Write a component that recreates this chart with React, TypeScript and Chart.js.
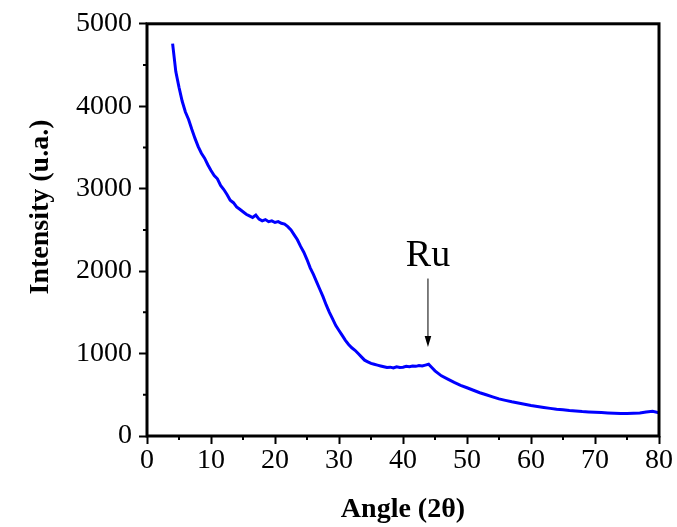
import React, { useEffect, useRef } from "react";
import { Chart, registerables } from "chart.js";

Chart.register(...registerables);

const angles: number[] = [
  4.0, 4.5, 5.0, 5.5, 6.0, 6.5, 7.0, 7.5, 8.0, 8.5, 9.0, 9.5, 10.0, 10.5, 11.0, 11.5,
  12.0, 12.5, 13.0, 13.5, 14.0, 14.5, 15.0, 15.5, 16.0, 16.5, 17.0, 17.5, 18.0, 18.5,
  19.0, 19.5, 20.0, 20.5, 21.0, 21.5, 22.0, 22.5, 23.0, 23.5, 24.0, 24.5, 25.0, 25.5,
  26.0, 26.5, 27.0, 27.5, 28.0, 28.5, 29.0, 29.5, 30.0, 30.5, 31.0, 31.5, 32.0, 32.5,
  33.0, 33.5, 34.0, 34.5, 35.0, 35.5, 36.0, 36.5, 37.0, 37.5, 38.0, 38.5, 39.0, 39.5,
  40.0, 40.5, 41.0, 41.5, 42.0, 42.5, 43.0, 43.5, 44.0, 44.5, 45.0, 45.5, 46.0,
  47, 48, 49, 50, 51, 52, 53, 54, 55, 56, 57, 58, 59, 60, 61, 62, 63, 64, 65, 66, 67,
  68, 69, 70, 71, 72, 73, 74, 75, 76, 77, 78, 79, 80,
];

const intensity: number[] = [
  4760, 4420, 4230, 4060, 3930, 3840, 3720, 3610, 3510, 3430, 3370, 3290, 3220, 3160, 3120, 3040,
  2990, 2930, 2860, 2830, 2780, 2750, 2720, 2690, 2670, 2650, 2680, 2630, 2610, 2625,
  2600, 2610, 2590, 2600, 2580, 2570, 2540, 2500, 2440, 2380, 2300, 2230, 2140, 2040,
  1960, 1870, 1780, 1690, 1590, 1500, 1420, 1340, 1280, 1220, 1160, 1110, 1070, 1040,
  1000, 960, 920, 900, 880, 870, 860, 850, 840, 830, 835, 825, 840, 830,
  835, 845, 840, 850, 845, 855, 850, 860, 870, 830, 790, 760, 730,
  690, 650, 615, 585, 555, 525, 500, 475, 450, 432, 415, 400, 385, 370, 358, 346, 335, 325, 318, 310, 304,
  297, 292, 288, 284, 280, 277, 273, 272, 276, 279, 290, 300, 282,
];

const xMajorTicks: number[] = [0, 10, 20, 30, 40, 50, 60, 70, 80];
const xMinorTicks: number[] = [5, 15, 25, 35, 45, 55, 65, 75];
const yMajorTicks: number[] = [0, 1000, 2000, 3000, 4000, 5000];
const yMinorTicks: number[] = [500, 1500, 2500, 3500, 4500];

const xTitle = "Angle (2θ)";
const yTitle = "Intensity (u.a.)";
const peakLabel = "Ru";
const peakAngle = 43.9;
const arrowTop = 1910;
const arrowTip = 1080;
const labelBase = 2065;

const FONT = "'Liberation Serif', 'Times New Roman', serif";

const decorPlugin = {
  id: "decor",
  afterDraw(chart: any) {
    const { ctx, chartArea } = chart;
    const xs = chart.scales.x;
    const ys = chart.scales.y;
    ctx.save();
    ctx.strokeStyle = "#000";
    ctx.lineWidth = 3;
    ctx.strokeRect(chartArea.left, chartArea.top, chartArea.right - chartArea.left, chartArea.bottom - chartArea.top);
    ctx.lineWidth = 2;
    ctx.beginPath();
    for (const v of xMinorTicks) {
      const px = xs.getPixelForValue(v);
      ctx.moveTo(px, chartArea.bottom);
      ctx.lineTo(px, chartArea.bottom + 4);
    }
    for (const v of yMinorTicks) {
      const py = ys.getPixelForValue(v);
      ctx.moveTo(chartArea.left, py);
      ctx.lineTo(chartArea.left - 4, py);
    }
    ctx.stroke();
    ctx.fillStyle = "#000";
    ctx.font = `bold 28px ${FONT}`;
    ctx.textAlign = "center";
    ctx.textBaseline = "middle";
    ctx.translate(41, 207);
    ctx.rotate(-Math.PI / 2);
    ctx.fillText(yTitle, 0, 0);
    ctx.restore();

    ctx.save();
    const ax = xs.getPixelForValue(peakAngle);
    const aTop = ys.getPixelForValue(arrowTop);
    const aTip = ys.getPixelForValue(arrowTip);
    ctx.strokeStyle = "#000";
    ctx.fillStyle = "#000";
    ctx.lineWidth = 1;
    ctx.beginPath();
    ctx.moveTo(ax, aTop);
    ctx.lineTo(ax, aTip - 6);
    ctx.stroke();
    ctx.beginPath();
    ctx.moveTo(ax, aTip);
    ctx.lineTo(ax - 3.3, aTip - 11);
    ctx.lineTo(ax + 3.3, aTip - 11);
    ctx.closePath();
    ctx.fill();
    ctx.font = `38px ${FONT}`;
    ctx.textAlign = "center";
    ctx.textBaseline = "alphabetic";
    ctx.fillText(peakLabel, ax, ys.getPixelForValue(labelBase));
    ctx.restore();
  },
};

export default function App() {
  const ref = useRef<HTMLCanvasElement | null>(null);
  useEffect(() => {
    if (!ref.current) return;
    const data = angles.map((a, i) => ({ x: a, y: intensity[i] }));
    const chart = new Chart(ref.current, {
      type: "line",
      data: {
        datasets: [
          {
            data,
            borderColor: "#0000ff",
            borderWidth: 3,
            pointRadius: 0,
            tension: 0,
            fill: false,
          },
        ],
      },
      options: {
        animation: false,
        responsive: false,
        events: [],
        layout: { padding: { top: 22, right: 18, left: 0, bottom: 0 } },
        plugins: { legend: { display: false }, tooltip: { enabled: false } },
        scales: {
          x: {
            type: "linear",
            min: 0,
            max: 80,
            afterBuildTicks: (s: any) => {
              s.ticks = xMajorTicks.map((v) => ({ value: v }));
            },
            afterFit: (s: any) => {
              s.height = 91;
            },
            ticks: {
              color: "#000",
              font: { family: FONT, size: 28 },
              padding: 0,
              maxRotation: 0,
              autoSkip: false,
              callback: (v: any) => String(v),
            },
            grid: {
              drawOnChartArea: false,
              drawTicks: true,
              tickLength: 8,
              tickWidth: 2,
              tickColor: "#000",
            },
            border: { display: false },
            title: {
              display: true,
              text: xTitle,
              color: "#000",
              font: { family: FONT, size: 28, weight: "bold" },
              padding: { top: 0, bottom: 0 },
            },
          },
          y: {
            type: "linear",
            min: 0,
            max: 5000,
            afterBuildTicks: (s: any) => {
              s.ticks = yMajorTicks.map((v) => ({ value: v }));
            },
            afterFit: (s: any) => {
              s.width = 147;
            },
            ticks: {
              color: "#000",
              font: { family: FONT, size: 28 },
              padding: 7,
              autoSkip: false,
              callback: (v: any) => String(v),
            },
            grid: {
              drawOnChartArea: false,
              drawTicks: true,
              tickLength: 8,
              tickWidth: 2,
              tickColor: "#000",
            },
            border: { display: false },
          },
        },
      },
      plugins: [decorPlugin],
    });
    return () => chart.destroy();
  }, []);
  return (
    <div style={{ position: "absolute", left: 0, top: 0, width: 677, height: 527 }}>
      <canvas ref={ref} width={677} height={527} style={{ display: "block" }} />
    </div>
  );
}
